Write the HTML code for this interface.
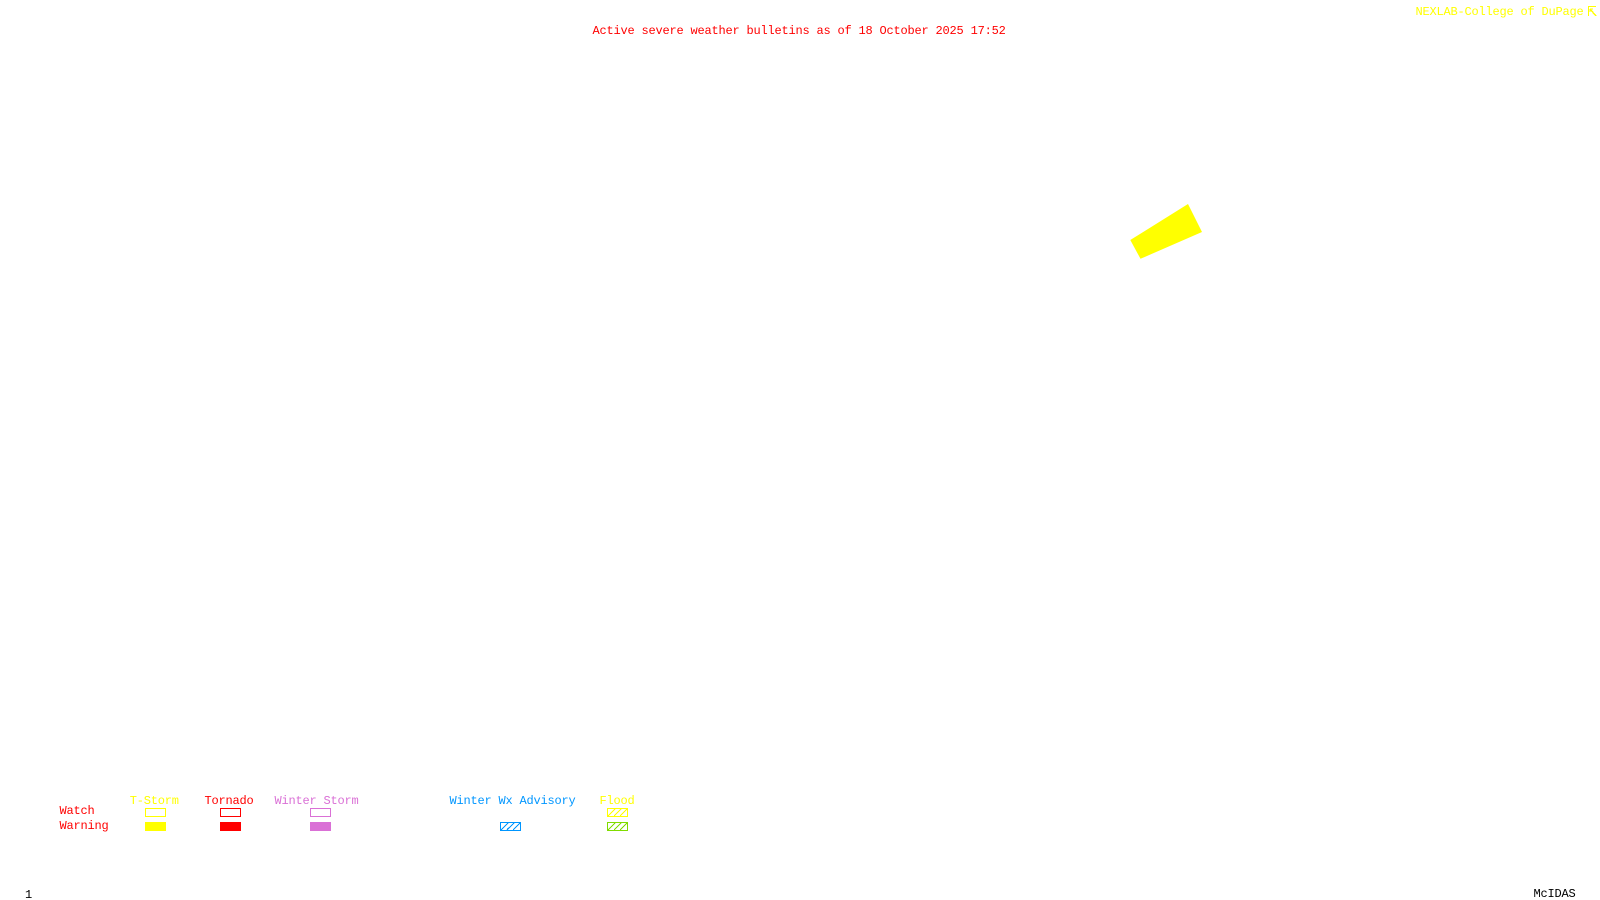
<!DOCTYPE html>
<html><head><meta charset="utf-8"><style>
html,body{margin:0;padding:0;background:#fff;width:1600px;height:900px;overflow:hidden}
svg{display:block}
text{font-family:"Liberation Mono",monospace;font-size:12px;letter-spacing:-0.2px;white-space:pre}
</style></head><body>
<svg width="1600" height="900" viewBox="0 0 1600 900" xmlns="http://www.w3.org/2000/svg">
<rect width="1600" height="900" fill="#fff"/>
<text x="592.5" y="34" fill="#f00">Active severe weather bulletins as of 18 October 2025 17:52</text>
<text x="1415.5" y="15" fill="#ff0">NEXLAB-College of DuPage</text>
<g shape-rendering="crispEdges" fill="none" stroke="#ff0">
<path d="M1588.5 16V6.5H1596"/>
<path d="M1590 9L1596 16M1590 9V12M1590 9H1593" stroke-width="1.4"/>
</g>
<polygon points="1188,204 1202,232 1140.5,258.8 1130.3,240" fill="#ff0"/>
<g fill="#f00">
<text x="59.5" y="814">Watch</text>
<text x="59.5" y="829">Warning</text>
<text x="204.5" y="804">Tornado</text>
</g>
<text x="129.8" y="804" fill="#ff0">T-Storm</text>
<text x="274.5" y="804" fill="#da70d6">Winter Storm</text>
<text x="449.5" y="804" fill="#0096ff">Winter Wx Advisory</text>
<text x="599.5" y="804" fill="#ff0">Flood</text>
<g shape-rendering="crispEdges" fill="none">
<rect x="145.5" y="808.5" width="20" height="8" stroke="#ff0"/>
<rect x="220.5" y="808.5" width="20" height="8" stroke="#f00"/>
<rect x="310.5" y="808.5" width="20" height="8" stroke="#da70d6"/>
<rect x="145" y="822" width="21" height="9" fill="#ff0"/>
<rect x="220" y="822" width="21" height="9" fill="#f00"/>
<rect x="310" y="822" width="21" height="9" fill="#da70d6"/>
<rect x="500.5" y="822.5" width="20" height="8" stroke="#0096ff"/>
<path d="M501 830L508 823M507 830L514 823M513 830L520 823" stroke="#0096ff" stroke-width="1.4"/>
<rect x="607.5" y="808.5" width="20" height="8" stroke="#ff0"/>
<path d="M608 816L615 809M614 816L621 809M620 816L627 809" stroke="#ff0" stroke-width="1.4"/>
<rect x="607.5" y="822.5" width="20" height="8" stroke="#80dc00"/>
<path d="M608 830L615 823M614 830L621 823M620 830L627 823" stroke="#80dc00" stroke-width="1.4"/>
</g>
<text x="25" y="898" fill="#000">1</text>
<text x="1533.5" y="897" fill="#000">McIDAS</text>
</svg>
</body></html>
